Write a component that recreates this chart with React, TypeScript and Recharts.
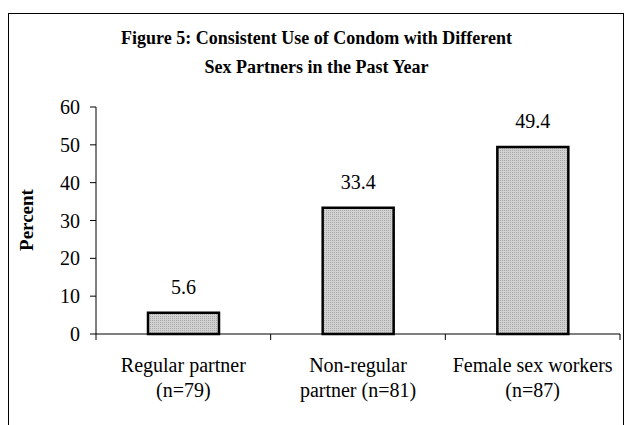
import React from 'react';
import { BarChart, Bar, XAxis, YAxis, LabelList } from 'recharts';

const categories = ['Regular partner', 'Non-regular', 'Female sex workers'];
const subLabels = ['(n=79)', 'partner (n=81)', '(n=87)'];
const percents = [5.6, 33.4, 49.4];
const yTicks = [0, 10, 20, 30, 40, 50, 60];

const data = categories.map((name, i) => ({ name, sub: subLabels[i], value: percents[i] }));

const serif = '"Liberation Serif", "Times New Roman", serif';

const CategoryTick = (props: any) => {
    const { x, y, payload, index } = props;
    const half = payload && payload.offset ? payload.offset : 87.33;
    const row = data[index] || data.find((d) => d.name === payload.value);
    return (
        <g>
            {index === 0 && <line x1={x - half} y1={y} x2={x - half} y2={y + 6} stroke="#000" strokeWidth={1} />}
            <line x1={x + half} y1={y} x2={x + half} y2={y + 6} stroke="#000" strokeWidth={1} />
            <text x={x} y={y + 38} textAnchor="middle" fontFamily={serif} fontSize={20} fill="#000">
                {payload.value}
            </text>
            <text x={x} y={y + 63} textAnchor="middle" fontFamily={serif} fontSize={20} fill="#000">
                {row ? row.sub : ''}
            </text>
        </g>
    );
};

const PercentLabel = () => (
    <text
        x={33}
        y={220}
        transform="rotate(-90 33 220)"
        textAnchor="middle"
        fontFamily={serif}
        fontWeight="bold"
        fontSize={19}
        fill="#000"
    >
        Percent
    </text>
);

export default function App() {
    return (
        <div style={{ position: 'relative', width: 629, height: 425, overflow: 'hidden', background: '#fff' }}>
            <style>{`body{margin:0}`}</style>
            <div
                style={{
                    position: 'absolute',
                    left: 8,
                    top: 13,
                    width: 614,
                    height: 440,
                    border: '1.5px solid #000',
                }}
            />
            <div
                style={{
                    position: 'absolute',
                    left: 9,
                    width: 615,
                    top: 24,
                    textAlign: 'center',
                    fontFamily: serif,
                    fontWeight: 'bold',
                    fontSize: 18,
                    lineHeight: '29px',
                    color: '#000',
                }}
            >
                Figure 5: Consistent Use of Condom with Different
                <br />
                Sex Partners in the Past Year
            </div>
            <div style={{ position: 'absolute', left: 0, top: 0 }}>
                <BarChart
                    width={629}
                    height={425}
                    data={data}
                    margin={{ top: 107, right: 9, bottom: 0, left: 0 }}
                    barSize={71}
                >
                    <defs>
                        <pattern id="hatch" width="2" height="2" patternUnits="userSpaceOnUse">
                            <rect width="2" height="2" fill="#d2d2d2" />
                            <rect width="1" height="1" fill="#a8a8a8" />
                        </pattern>
                    </defs>
                    <XAxis
                        dataKey="name"
                        axisLine={{ stroke: '#000', strokeWidth: 1 }}
                        tickLine={false}
                        tickSize={0}
                        tickMargin={0}
                        interval={0}
                        tick={<CategoryTick />}
                        height={91}
                    />
                    <YAxis
                        width={96}
                        domain={[0, 60]}
                        ticks={yTicks}
                        interval={0}
                        axisLine={{ stroke: '#000', strokeWidth: 1 }}
                        tickLine={{ stroke: '#000', strokeWidth: 1 }}
                        tickSize={6}
                        tickMargin={10}
                        tick={{ fontFamily: serif, fontSize: 20, fill: '#000' }}
                        label={<PercentLabel />}
                    />
                    <Bar
                        dataKey="value"
                        fill="url(#hatch)"
                        stroke="#000"
                        strokeWidth={2.5}
                        isAnimationActive={false}
                    >
                        <LabelList
                            dataKey="value"
                            position="top"
                            offset={19}
                            fontFamily={serif}
                            fontSize={20}
                            fill="#000"
                        />
                    </Bar>
                </BarChart>
            </div>
        </div>
    );
}
